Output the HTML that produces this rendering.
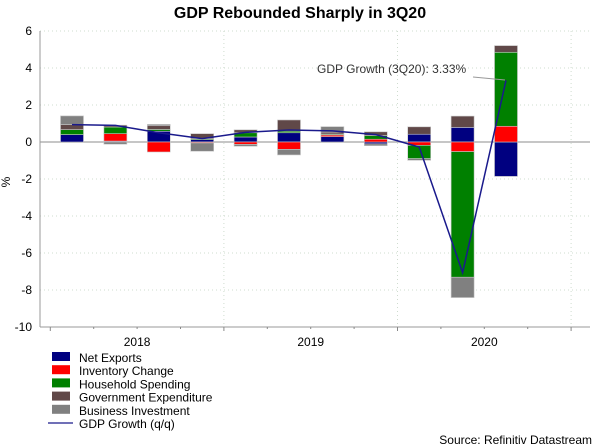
<!DOCTYPE html>
<html><head><meta charset="utf-8"><style>
body{margin:0;background:#fff;}
svg{display:block;font-family:"Liberation Sans",Arial,sans-serif;}
</style></head><body>
<svg id="chart" width="600" height="448" viewBox="0 0 600 448">
<text x="300" y="18" text-anchor="middle" font-size="16" font-weight="bold" fill="#000">GDP Rebounded Sharply in 3Q20</text>
<g id="grid"></g>
<g id="bars"></g>
<g id="axes"></g>
<g id="line"></g>
<text x="10" y="182" font-size="12" fill="#000" text-anchor="middle" transform="rotate(-90 10 182)">%</text>
<g id="annot">
<line x1="473" y1="77" x2="505" y2="80" stroke="#999" stroke-width="1"/>
<text x="317" y="73" font-size="12" fill="#333">GDP Growth (3Q20): 3.33%</text>
</g>
<g id="legend"></g>
<text x="592" y="444" text-anchor="end" font-size="12" fill="#000">Source: Refinitiv Datastream</text>
</svg>
<script>
const quarters = ["1Q18","2Q18","3Q18","4Q18","1Q19","2Q19","3Q19","4Q19","1Q20","2Q20","3Q20"];
const netExports = [0.40, 0.05, 0.58, 0.13, 0.27, 0.50, 0.29, -0.10, 0.42, 0.79, -1.86];
const inventoryChange = [0.00, 0.40, -0.54, -0.05, -0.13, -0.40, 0.09, 0.15, -0.18, -0.52, 0.85];
const householdSpending = [0.27, 0.36, 0.10, 0.05, 0.23, 0.09, 0.05, 0.20, -0.72, -6.79, 4.00];
const governmentExpenditure = [0.27, 0.10, 0.20, 0.27, 0.16, 0.60, 0.10, 0.20, 0.40, 0.61, 0.36];
const businessInvestment = [0.47, -0.12, 0.07, -0.45, -0.10, -0.30, 0.30, -0.10, -0.09, -1.10, 0.00];
const gdpGrowth = [0.94, 0.90, 0.50, 0.18, 0.52, 0.65, 0.60, 0.40, -0.27, -7.06, 3.33];
const yTicks = [-10, -8, -6, -4, -2, 0, 2, 4, 6];
const yearLabels = ["2018", "2019", "2020"];

const NS = "http://www.w3.org/2000/svg";
const yMin = -10, yMax = 6, plotTop = 31, plotBottom = 327, plotLeft = 40, plotRight = 590;
function y(v){ return plotBottom - (v - yMin) / (yMax - yMin) * (plotBottom - plotTop); }
function x(t){ return 72 + t * 43.4; }
function mk(tag, attrs, parent){ const e = document.createElementNS(NS, tag); for (const k in attrs) e.setAttribute(k, attrs[k]); parent.appendChild(e); return e; }

const grid = document.getElementById("grid");
yTicks.forEach(v => {
  if (v === yMin) return;
  const l = mk("line", {x1: plotLeft, x2: plotRight, y1: y(v), y2: y(v), stroke: v === 0 ? "#b4b4b4" : "#cfdccf", "stroke-width": v === 0 ? 1.5 : 1, "stroke-dasharray": v === 0 ? "none" : "1,3"}, grid);
  
  
});
[3.5, 7.5, 11.5].forEach(t => {
  const l = mk("line", {x1: x(t), x2: x(t), y1: plotTop, y2: plotBottom, stroke: "#cfdccf", "stroke-dasharray": "1,3"}, grid);
  
  
});

const series = [
  {name: "Net Exports", vals: netExports, color: "#000080", key: "net-exports"},
  {name: "Inventory Change", vals: inventoryChange, color: "#ff0000", key: "inventory-change"},
  {name: "Household Spending", vals: householdSpending, color: "#008000", key: "household-spending"},
  {name: "Government Expenditure", vals: governmentExpenditure, color: "#604848", key: "government-expenditure"},
  {name: "Business Investment", vals: businessInvestment, color: "#808080", key: "business-investment"}
];
const bars = document.getElementById("bars");
const bw = 23;
quarters.forEach((q, i) => {
  let pos = 0, neg = 0;
  series.forEach(s => {
    const v = s.vals[i];
    if (v === 0) return;
    let y0, y1;
    if (v > 0) { y0 = pos; y1 = pos + v; pos = y1; } else { y0 = neg; y1 = neg + v; neg = y1; }
    const r = mk("rect", {x: x(i) - bw/2, y: Math.min(y(y0), y(y1)), width: bw, height: Math.abs(y(y1) - y(y0)), fill: s.color, stroke: "#c8c8c8", "stroke-width": 0.6}, bars);
    
    
  });
});

const axes = document.getElementById("axes");
mk("line", {x1: plotLeft, x2: plotLeft, y1: plotTop, y2: plotBottom, stroke: "#999"}, axes);
mk("line", {x1: plotLeft, x2: plotRight, y1: plotBottom, y2: plotBottom, stroke: "#999"}, axes);
yTicks.forEach(v => {
  const t = mk("text", {x: 32, y: y(v) + 4, "text-anchor": "end", "font-size": 12, fill: "#000"}, axes);
  t.textContent = v;
  
  
});
for (let t = -0.5; t <= 11.6; t += 1) {
  const major = Math.abs((t + 0.5) % 4) < 0.01;
  mk("line", {x1: x(t), x2: x(t), y1: plotBottom, y2: plotBottom + (major ? 4 : 2), stroke: "#888"}, axes);
}
yearLabels.forEach((lab, k) => {
  const t = mk("text", {x: x(1.5 + 4 * k), y: 346, "text-anchor": "middle", "font-size": 12, fill: "#000"}, axes);
  t.textContent = lab;
  
  
});

const lineG = document.getElementById("line");
const pl = mk("polyline", {points: gdpGrowth.map((v, i) => x(i) + "," + y(v)).join(" "), fill: "none", stroke: "#1a1a8c", "stroke-width": 1.5}, lineG);



const legend = document.getElementById("legend");
series.concat([{name: "GDP Growth (q/q)", color: "#1a1a8c", key: "gdp-growth", line: true}]).forEach((s, k) => {
  const yy = 358 + k * 13.2;
  const g = mk("g", {}, legend);
  
  
  if (s.line) mk("line", {x1: 48, x2: 73, y1: yy - 1, y2: yy - 1, stroke: s.color, "stroke-width": 1.2}, g);
  else mk("rect", {x: 52, y: yy - 6, width: 18, height: 9, fill: s.color}, g);
  const t = mk("text", {x: 79, y: yy + 4, "font-size": 12, fill: "#000"}, g);
  t.textContent = s.name;
});
</script>
</body></html>
